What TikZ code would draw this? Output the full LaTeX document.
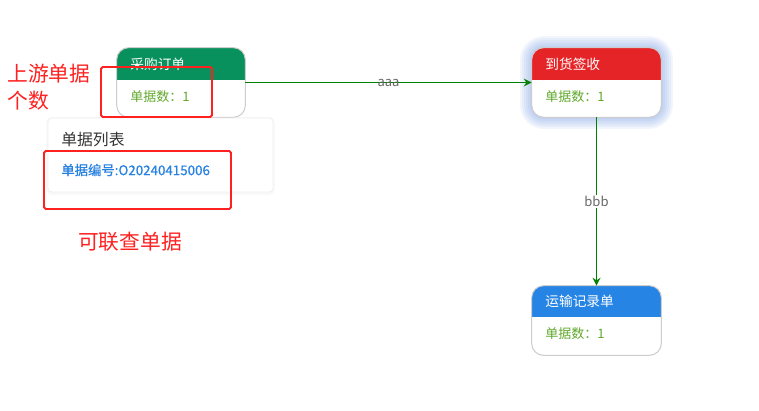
\documentclass[tikz,border=0pt]{standalone}
\usepackage{fontspec}
\setmainfont{Noto Sans CJK SC}
\newfontfamily\semibold[FakeBold=0.6]{Noto Sans CJK SC}
\usetikzlibrary{arrows.meta}
\definecolor{HeadGreen}{RGB}{8,145,92}
\definecolor{HeadRed}{RGB}{229,36,40}
\definecolor{HeadBlue}{RGB}{38,132,228}
\definecolor{CountGreen}{RGB}{96,168,44}
\definecolor{EdgeGreen}{RGB}{0,128,0}
\definecolor{Mark}{RGB}{255,32,32}
\definecolor{Glow}{RGB}{90,135,220}
\definecolor{Link}{RGB}{40,130,225}
\definecolor{Rim}{RGB}{205,205,205}

\tikzset{
  card/.style={minimum width=2.56cm, minimum height=1.38cm, inner sep=0pt, fill=white, rounded corners=0.24cm},
  rim/.style={draw=Rim, line width=0.6pt, rounded corners=0.24cm},
  headtext/.style={anchor=west, inner sep=0pt, text=white, font=\fontsize{7.8pt}{9pt}\selectfont},
  counttext/.style={anchor=west, inner sep=0pt, text=CountGreen, font=\fontsize{7.4pt}{9pt}\selectfont},
  marker/.style={draw=Mark, line width=1.1pt, rounded corners=1pt},
  marknote/.style={anchor=west, inner sep=0pt, text=Mark, font=\fontsize{11.8pt}{15.3pt}\selectfont, align=left},
  flow/.style={draw=EdgeGreen, line width=1.1pt, -{Stealth[length=4.5pt,width=4.5pt]}},
  flowlabel/.style={inner sep=0pt, text=black!60, font=\fontsize{7.4pt}{9pt}\selectfont}
}

\begin{document}
\begin{tikzpicture}[x=0.02cm, y=-0.02cm]
\useasboundingbox (0,0) rectangle (759,410);

% glow round the selected card
\foreach \g in {12,10,...,2}
  \fill[Glow, opacity=0.08, rounded corners=0.24cm+\g*0.02cm] (532-\g,48-\g) rectangle (661+\g,117+\g);

% cards
\node[card] (cgdd) at (181,82.5) {};
\node[card, minimum width=2.58cm] (dhqs) at (596.5,82.5) {};
\node[card, minimum width=2.58cm] (ysjl) at (596.5,320.5) {};

\begin{scope}
\clip[rounded corners=0.24cm] (cgdd.north west) rectangle (cgdd.south east);
\fill[HeadGreen] (cgdd.north west) rectangle ([yshift=-0.64cm]cgdd.north east);
\end{scope}
\begin{scope}
\clip[rounded corners=0.24cm] (dhqs.north west) rectangle (dhqs.south east);
\fill[HeadRed] (dhqs.north west) rectangle ([yshift=-0.64cm]dhqs.north east);
\end{scope}
\begin{scope}
\clip[rounded corners=0.24cm] (ysjl.north west) rectangle (ysjl.south east);
\fill[HeadBlue] (ysjl.north west) rectangle ([yshift=-0.62cm]ysjl.north east);
\end{scope}
\draw[rim] (cgdd.north west) rectangle (cgdd.south east);
\draw[rim] (dhqs.north west) rectangle (dhqs.south east);
\draw[rim] (ysjl.north west) rectangle (ysjl.south east);

\node[headtext] (cgddhead) at (130,64) {采购订单};
\node[counttext] (cgddnum) at (130,97) {单据数：1};
\node[headtext] (dhqshead) at (545,64) {到货签收};
\node[counttext] (dhqsnum) at (545,97) {单据数：1};
\node[headtext] (ysjlhead) at (545,301) {运输记录单};
\node[counttext] (ysjlnum) at (545,334) {单据数：1};

% connectors
\draw[flow] (cgdd.east) -- (dhqs.west) node[flowlabel, midway] {aaa};
\draw[flow] (dhqs.south) -- (ysjl.north) node[flowlabel, midway, fill=white, inner sep=0.5pt] {bbb};

% popup list
\fill[black, opacity=0.025, rounded corners=3pt] (46,117) rectangle (275,195);
\filldraw[fill=white, draw=black!6, line width=0.5pt, rounded corners=2pt] (48,118) rectangle (273,192);
\node[anchor=west, inner sep=0pt, text=black!80, font=\fontsize{9pt}{11pt}\selectfont] (listtitle) at (61,140) {单据列表};
\node[anchor=west, inner sep=0pt, text=Link, font=\fontsize{7.6pt}{9pt}\semibold] (listitem) at (61,170) {单据编号:O20240415006};

% notes
\draw[marker] (101,67) rectangle (212,117);
\draw[marker] (44,151) rectangle (231,209);
\node[marknote] (upnote) at (7,87) {上游单据\\个数};
\node[marknote, anchor=center] (linknote) at (130,242) {可联查单据};
\end{tikzpicture}
\end{document}
